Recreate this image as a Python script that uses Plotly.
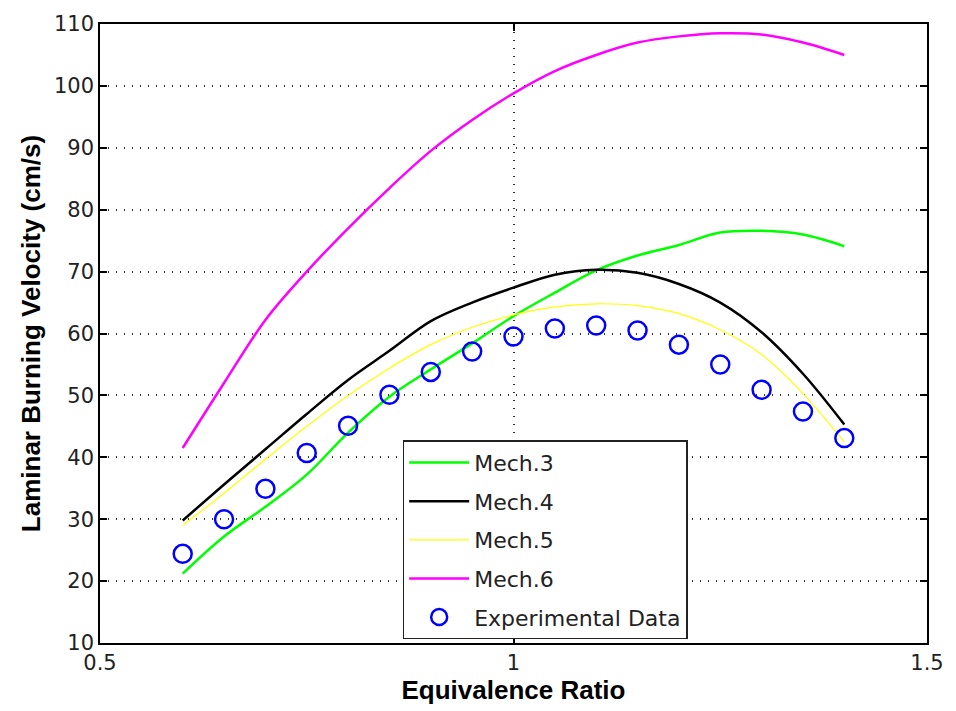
import plotly.graph_objects as go

phi = [0.6, 0.65, 0.7, 0.75, 0.8, 0.85, 0.9, 0.95, 1.0, 1.05, 1.1, 1.15, 1.2, 1.25, 1.3, 1.35, 1.4]
mech3 = [21.2, 27.2, 32.0, 37.2, 44.0, 49.8, 54.2, 58.4, 62.8, 66.6, 70.2, 72.6, 74.3, 76.3, 76.6, 76.0, 74.1]
mech4 = [29.8, 35.6, 41.3, 47.0, 52.5, 57.2, 62.0, 65.0, 67.4, 69.5, 70.3, 69.8, 68.0, 65.0, 60.2, 53.5, 45.3]
mech5 = [29.0, 34.2, 39.7, 45.0, 50.0, 54.4, 58.2, 61.0, 63.0, 64.3, 64.8, 64.5, 63.2, 60.6, 56.6, 50.3, 42.5]
mech6 = [41.5, 52.0, 62.2, 70.0, 77.0, 83.5, 89.5, 94.5, 98.8, 102.4, 105.0, 107.0, 108.0, 108.5, 108.3, 107.0, 105.0]
exp_data = [24.4, 30.0, 34.9, 40.7, 45.1, 50.1, 53.8, 57.1, 59.5, 60.8, 61.3, 60.5, 58.2, 55.0, 50.9, 47.4, 43.1]

fig = go.Figure()
fig.add_trace(go.Scatter(x=phi, y=mech3, mode="lines", name="Mech.3", legendgroup="a",
                         line=dict(color="#00ff00", width=2.5, shape="spline")))
fig.add_trace(go.Scatter(x=phi, y=mech4, mode="lines", name="Mech.4", legendgroup="b",
                         line=dict(color="#000000", width=2.5, shape="spline")))
fig.add_trace(go.Scatter(x=phi, y=mech5, mode="lines", name="Mech.5", legendgroup="c",
                         line=dict(color="#ffff00", width=1.2, shape="spline")))
fig.add_trace(go.Scatter(x=phi, y=mech6, mode="lines", name="Mech.6", legendgroup="d",
                         line=dict(color="#ff00ff", width=2.5, shape="spline")))
fig.add_trace(go.Scatter(x=phi, y=exp_data, mode="markers", name="Experimental Data", legendgroup="e",
                         marker=dict(symbol="circle-open", size=18, color="#0000ff", line=dict(width=2.5, color="#0000ff"))))

axis_common = dict(showline=True, linecolor="black", linewidth=1.5, mirror="ticks",
                   ticks="inside", ticklen=7, tickcolor="black", tickwidth=1.5,
                   showgrid=True, gridcolor="#333333", griddash="1px,7px", gridwidth=1.5,
                   zeroline=False, tickfont=dict(family="DejaVu Sans", size=21, color="#222222"))

title_font = dict(family="Liberation Sans", size=26, color="black")

fig.update_xaxes(range=[0.5, 1.5], tickvals=[0.5, 1, 1.5], ticktext=["0.5", "1", "1.5"],
                 title=dict(text="<b>Equivalence Ratio</b>", font=title_font, standoff=4),
                 **axis_common)
fig.update_yaxes(range=[10, 110], dtick=10,
                 title=dict(text="<b>Laminar Burning Velocity (cm/s)</b>", font=title_font, standoff=6),
                 **axis_common)

fig.update_layout(
    width=956, height=711,
    margin=dict(l=100, r=23, t=17, b=68),
    plot_bgcolor="white", paper_bgcolor="white",
    showlegend=True,
    legend=dict(x=0.366, y=0.006, xanchor="left", yanchor="bottom",
                bgcolor="white", bordercolor="#222222", borderwidth=1.5,
                font=dict(family="DejaVu Sans", size=22, color="#222222"),
                itemwidth=60, tracegroupgap=7),
)

fig.write_html("out.html")
